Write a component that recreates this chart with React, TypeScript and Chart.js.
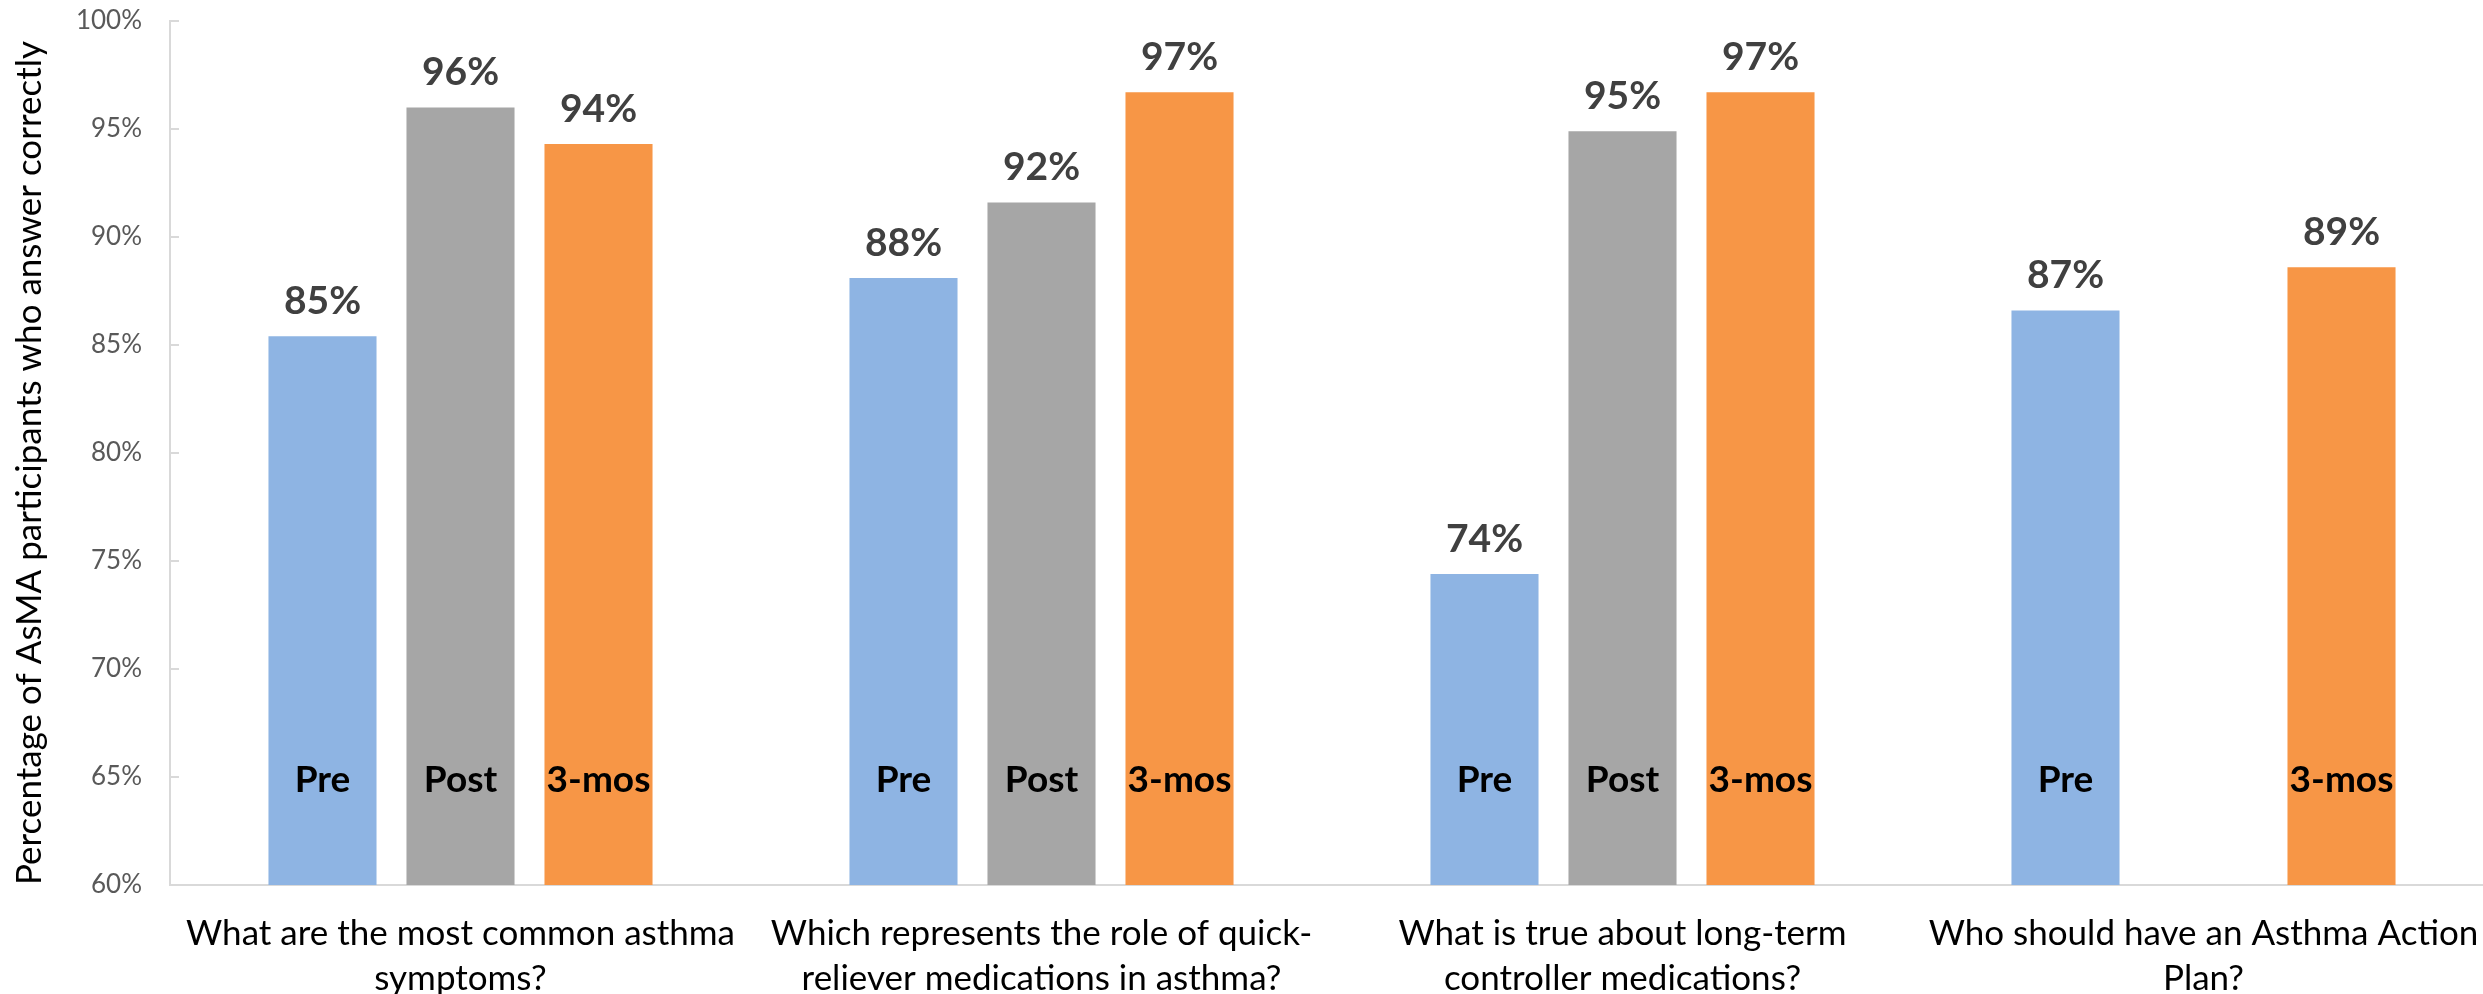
import React, { useEffect, useRef } from "react";
import { Chart, registerables } from "chart.js";

Chart.register(...registerables);

const categories: string[][] = [
  ["What are the most common asthma", "symptoms?"],
  ["Which represents the role of quick-", "reliever medications in asthma?"],
  ["What is true about long-term", "controller medications?"],
  ["Who should have an Asthma Action", "Plan?"],
];
const seriesNames = ["Pre", "Post", "3-mos"];
const preValues = [85.4, 88.1, 74.4, 86.6];
const postValues: (number | null)[] = [96.0, 91.6, 94.9, null];
const threeMonthValues = [94.3, 96.7, 96.7, 88.6];
const yMin = 60;
const yMax = 100;
const yStep = 5;
const yAxisTitle = "Percentage of AsMA participants who answer correctly";
const INNER_LABEL_LEVEL = 64.3;

const COLORS = ["#8EB4E3", "#A6A6A6", "#F79646"];

export default function App() {
  const ref = useRef<HTMLCanvasElement | null>(null);

  useEffect(() => {
    if (!ref.current) return;

    const labelPlugin = {
      id: "barLabels",
      afterDatasetsDraw(chart: any) {
        const ctx = chart.ctx;
        const yScale = chart.scales.y;
        chart.data.datasets.forEach((ds: any, di: number) => {
          const meta = chart.getDatasetMeta(di);
          meta.data.forEach((bar: any, i: number) => {
            const v = ds.data[i];
            if (v == null) return;
            ctx.save();
            ctx.textAlign = "center";
            ctx.textBaseline = "alphabetic";
            ctx.font = "bold 39px Lato";
            ctx.fillStyle = "#404040";
            ctx.fillText(Math.round(v) + "%", bar.x, bar.y - 22);
            ctx.font = "bold 37px Lato";
            ctx.fillStyle = "#000000";
            ctx.fillText(seriesNames[di], bar.x, yScale.getPixelForValue(INNER_LABEL_LEVEL));
            ctx.restore();
          });
        });
      },
      afterDraw(chart: any) {
        const ctx = chart.ctx;
        const yScale = chart.scales.y;
        const area = chart.chartArea;
        ctx.save();
        ctx.strokeStyle = "#D9D9D9";
        ctx.lineWidth = 2;
        yScale.ticks.forEach((t: any) => {
          const y = Math.round(yScale.getPixelForValue(t.value));
          ctx.beginPath();
          ctx.moveTo(area.left, y);
          ctx.lineTo(area.left + 9, y);
          ctx.stroke();
        });
        // y-axis title
        ctx.translate(30, (area.top + area.bottom) / 2 + 10);
        ctx.rotate(-Math.PI / 2);
        ctx.font = "35px Lato";
        ctx.fillStyle = "#000000";
        ctx.textAlign = "center";
        ctx.textBaseline = "middle";
        ctx.fillText(yAxisTitle, 0, 0);
        ctx.restore();
      },
    };

    const chart = new Chart(ref.current, {
      type: "bar",
      data: {
        labels: categories,
        datasets: [
          { label: seriesNames[0], data: preValues, backgroundColor: COLORS[0] },
          { label: seriesNames[1], data: postValues, backgroundColor: COLORS[1] },
          { label: seriesNames[2], data: threeMonthValues, backgroundColor: COLORS[2] },
        ],
      },
      options: {
        responsive: false,
        animation: false,
        devicePixelRatio: 1,
        layout: { padding: { top: 21, left: 0, right: 0, bottom: 0 } },
        datasets: {
          bar: { categoryPercentage: 0.7126, barPercentage: 0.783 },
        },
        plugins: {
          legend: { display: false },
          tooltip: { enabled: false },
          title: { display: false },
        },
        scales: {
          x: {
            grid: { display: false, drawTicks: false },
            border: { display: true, color: "#D9D9D9", width: 2 },
            ticks: {
              autoSkip: false,
              maxRotation: 0,
              minRotation: 0,
              padding: 26,
              color: "#000000",
              font: { family: "Lato", size: 35, lineHeight: 1.29 },
            },
            afterFit: (s: any) => {
              s.height = 109;
              s.paddingLeft = 0;
              s.paddingRight = 0;
            },
          },
          y: {
            min: yMin,
            max: yMax,
            grid: { drawOnChartArea: false, drawTicks: false, tickLength: 0 },
            border: { display: true, color: "#D9D9D9", width: 2 },
            ticks: {
              stepSize: yStep,
              padding: 28,
              color: "#595959",
              font: { family: "Lato", size: 26 },
              callback: (v: any) => v + "%",
            },
            title: { display: false },
            afterFit: (s: any) => {
              s.width = 170;
              s.paddingTop = 0;
              s.paddingBottom = 0;
            },
          },
        },
      },
      plugins: [labelPlugin],
    });

    return () => chart.destroy();
  }, []);

  return (
    <div
      style={{
        position: "fixed",
        left: 0,
        top: 0,
        width: 2483,
        height: 994,
        overflow: "hidden",
        background: "#ffffff",
      }}
    >
      <canvas ref={ref} width={2494} height={994} style={{ display: "block" }} />
    </div>
  );
}
